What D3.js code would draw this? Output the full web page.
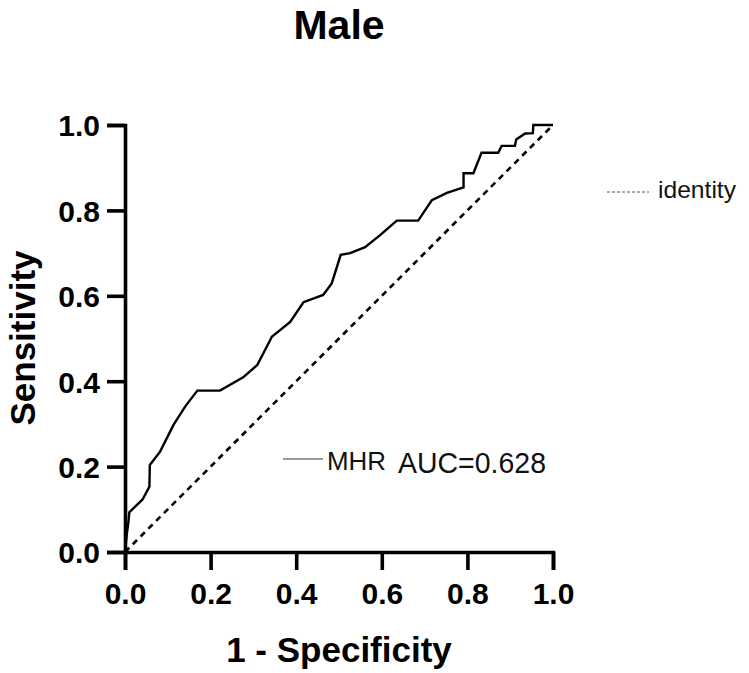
<!DOCTYPE html>
<html>
<head>
<meta charset="utf-8">
<script src="https://cdn.jsdelivr.net/npm/d3@7"></script>
<style>
  html, body { margin: 0; padding: 0; background: #fff; }
  svg { display: block; font-family: "Liberation Sans", Arial, sans-serif; }
</style>
</head>
<body>
<svg id="chart" width="749" height="673"></svg>
<script>
// ---- data ----
const title = "Male";
const xLabel = "1 - Specificity";
const yLabel = "Sensitivity";
const tickValues = [0.0, 0.2, 0.4, 0.6, 0.8, 1.0];
const seriesName = "MHR";
const aucText = "AUC=0.628";
const identityName = "identity";

const fpr = [0.000, 0.004, 0.008, 0.010, 0.041, 0.057, 0.058, 0.082, 0.113, 0.140, 0.169, 0.222,
             0.276, 0.309, 0.339, 0.343, 0.386, 0.417, 0.463, 0.483, 0.504, 0.526, 0.561, 0.596,
             0.635, 0.685, 0.717, 0.752, 0.791, 0.791, 0.814, 0.833, 0.872, 0.880, 0.911, 0.914,
             0.935, 0.953, 0.954, 1.000];
const tpr = [0.000, 0.040, 0.070, 0.093, 0.123, 0.153, 0.204, 0.235, 0.297, 0.340, 0.378, 0.378,
             0.409, 0.438, 0.496, 0.504, 0.539, 0.585, 0.602, 0.629, 0.696, 0.700, 0.714, 0.742,
             0.776, 0.776, 0.824, 0.841, 0.854, 0.887, 0.887, 0.935, 0.935, 0.951, 0.951, 0.966,
             0.980, 0.981, 1.000, 1.000];
const identity = [0, 1];

// ---- drawing ----
const svg = d3.select("#chart");
const x = d3.scaleLinear().domain([0, 1]).range([125, 553]);
const y = d3.scaleLinear().domain([0, 1]).range([552, 125]);

// title
svg.append("text").attr("x", 339).attr("y", 39)
  .attr("text-anchor", "middle").attr("font-size", 41).attr("font-weight", "bold")
  .attr("fill", "#000").text(title);

// identity diagonal
svg.append("line")
  .attr("x1", x(identity[0])).attr("y1", y(identity[0]))
  .attr("x2", x(identity[1])).attr("y2", y(identity[1]))
  .attr("stroke", "#000").attr("stroke-width", 2.6).attr("stroke-dasharray", "6,5");

// ROC curve
const pts = fpr.map((d, i) => [d, tpr[i]]);
svg.append("path").datum(pts)
  .attr("d", d3.line().x(d => x(d[0])).y(d => y(d[1])))
  .attr("fill", "none").attr("stroke", "#000").attr("stroke-width", 2.4)
  .attr("stroke-linejoin", "miter");

// axes
const xAxis = svg.append("g").attr("transform", "translate(0,552)")
  .call(d3.axisBottom(x).tickValues(tickValues).tickFormat(d3.format(".1f")).tickSizeOuter(0).tickSize(18).tickPadding(13));
const yAxis = svg.append("g").attr("transform", "translate(125,0)")
  .call(d3.axisLeft(y).tickValues(tickValues).tickFormat(d3.format(".1f")).tickSizeOuter(0).tickSize(18).tickPadding(7));
[xAxis, yAxis].forEach(g => {
  g.select(".domain").attr("stroke", "#000").attr("stroke-width", 3.6);
  g.selectAll(".tick line").attr("stroke", "#000").attr("stroke-width", 3.6);
  g.selectAll(".tick text").attr("fill", "#000").attr("font-size", 30).attr("font-weight", "bold")
    .attr("font-family", "'Liberation Sans', Arial, sans-serif");
});
xAxis.selectAll(".tick text").attr("dy", "0.71em");
yAxis.selectAll(".tick text").attr("dy", "0.36em");

// axis titles
svg.append("text").attr("x", 339).attr("y", 662)
  .attr("text-anchor", "middle").attr("font-size", 35).attr("font-weight", "bold")
  .attr("fill", "#000").text(xLabel);
svg.append("text").attr("transform", "translate(35,338) rotate(-90)")
  .attr("text-anchor", "middle").attr("font-size", 35).attr("font-weight", "bold")
  .attr("fill", "#000").text(yLabel);

// legend: MHR
svg.append("line").attr("x1", 283).attr("x2", 323).attr("y1", 459).attr("y2", 459)
  .attr("stroke", "#777").attr("stroke-width", 1.5);
svg.append("text").attr("x", 327).attr("y", 469.5).attr("font-size", 25)
  .attr("fill", "#111").attr("textLength", 59).attr("lengthAdjust", "spacingAndGlyphs").text(seriesName);
svg.append("text").attr("x", 398).attr("y", 472.5).attr("font-size", 29)
  .attr("fill", "#111").attr("textLength", 148).attr("lengthAdjust", "spacingAndGlyphs").text(aucText);

// legend: identity
svg.append("line").attr("x1", 607).attr("x2", 649).attr("y1", 192).attr("y2", 192)
  .attr("stroke", "#555").attr("stroke-width", 1).attr("stroke-dasharray", "3,2");
svg.append("text").attr("x", 658).attr("y", 197.5).attr("font-size", 24)
  .attr("fill", "#111").attr("textLength", 78).attr("lengthAdjust", "spacingAndGlyphs").text(identityName);
</script>
</body>
</html>
